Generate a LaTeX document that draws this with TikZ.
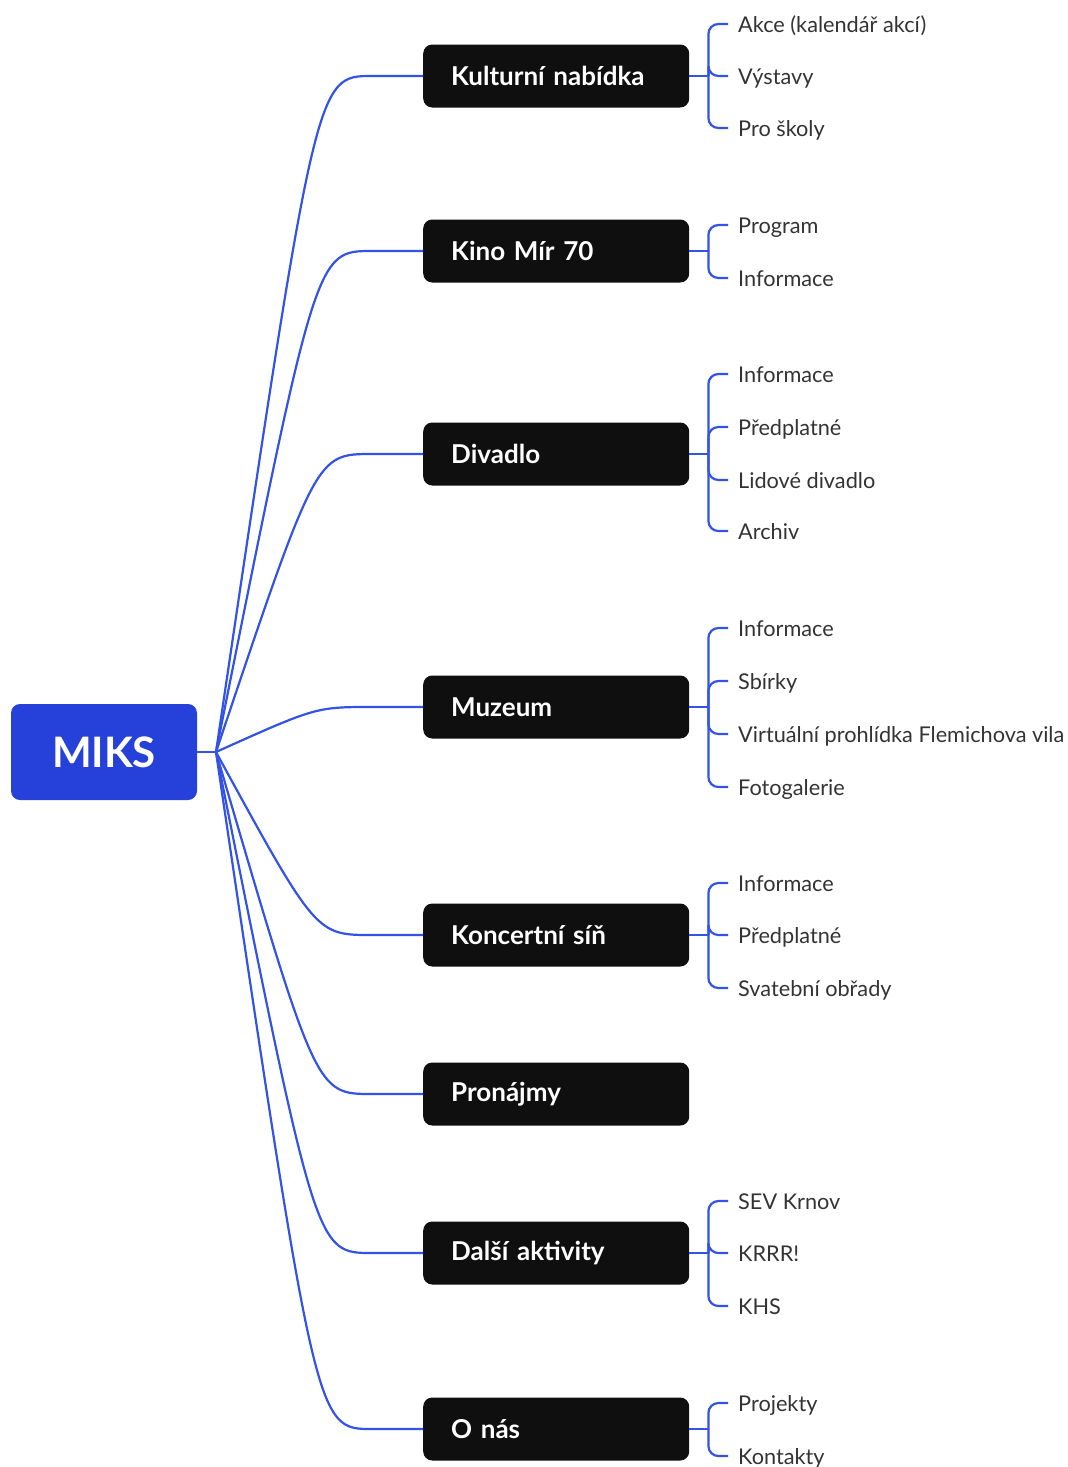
\documentclass[tikz,border=0pt]{standalone}
\usepackage{fontspec}
\setmainfont{Lato}
\usetikzlibrary{calc}
\definecolor{miksblue}{HTML}{2541D9}
\definecolor{linkblue}{HTML}{3352E6}
\definecolor{boxblack}{HTML}{0F0F0F}
\definecolor{leafgray}{HTML}{333333}
\begin{document}
\begin{tikzpicture}[x=1pt, y=-1pt,
        root/.style={rectangle, rounded corners=9pt, fill=miksblue, text=white, minimum width=186pt, minimum height=96pt, font=\fontsize{42}{42}\selectfont\bfseries},
        topic/.style={rectangle, rounded corners=9pt, fill=boxblack, text=white, anchor=west, minimum height=63pt, text width=266pt, inner xsep=0pt, align=left, execute at begin node={\hspace*{28pt}}, font=\fontsize{26}{26}\selectfont\bfseries},
        leaf/.style={anchor=west, inner sep=0pt, text height=16pt, text depth=0pt, text=leafgray, font=\fontsize{21.7}{21.7}\selectfont},
        link/.style={draw=linkblue, line width=2.2pt},
        fork/.style={link, rounded corners=10pt}
    ]
    \useasboundingbox (0,0) rectangle (1068,1467);
    \node[root] (miks) at (104,752) {MIKS};
    \coordinate (hub) at (216,752);
    \draw[link] (miks.east) -- (hub);

    \node[topic] (kul) at (423,76) {Kulturní nabídka};
    \node[topic] (kino) at (423,251) {Kino Mír 70};
    \node[topic] (div) at (423,454) {Divadlo};
    \node[topic] (muz) at (423,707) {Muzeum};
    \node[topic] (kon) at (423,935) {Koncertní síň};
    \node[topic] (pro) at (423,1094) {Pronájmy};
    \node[topic] (dal) at (423,1253) {Další aktivity};
    \node[topic] (onas) at (423,1429) {O nás};

    \foreach \t in {kul,kino,div,muz,kon,pro,dal,onas}
        \draw[link] (hub) .. controls ($(hub |- \t.west)+(100,0)$) .. ($(\t.west)+(-51,0)$) -- (\t.west);

    % Kulturní nabídka
    \node[leaf] (kul1) at (738,24) {Akce (kalendář akcí)};
    \node[leaf] (kul2) at (738,76) {Výstavy};
    \node[leaf] (kul3) at (738,128) {Pro školy};
    % Kino
    \node[leaf] (kino1) at (738,225) {Program};
    \node[leaf] (kino2) at (738,278) {Informace};
    % Divadlo
    \node[leaf] (div1) at (738,374) {Informace};
    \node[leaf] (div2) at (738,427) {Předplatné};
    \node[leaf] (div3) at (738,480) {Lidové divadlo};
    \node[leaf] (div4) at (738,531) {Archiv};
    % Muzeum
    \node[leaf] (muz1) at (738,628) {Informace};
    \node[leaf] (muz2) at (738,681) {Sbírky};
    \node[leaf] (muz3) at (738,734) {Virtuální prohlídka Flemichova vila};
    \node[leaf] (muz4) at (738,787) {Fotogalerie};
    % Koncertní síň
    \node[leaf] (kon1) at (738,883) {Informace};
    \node[leaf] (kon2) at (738,935) {Předplatné};
    \node[leaf] (kon3) at (738,988) {Svatební obřady};
    % Další aktivity
    \node[leaf] (dal1) at (738,1201) {SEV Krnov};
    \node[leaf] (dal2) at (738,1253) {KRRR!};
    \node[leaf] (dal3) at (738,1306) {KHS};
    % O nás
    \node[leaf] (onas1) at (738,1403) {Projekty};
    \node[leaf] (onas2) at (738,1456) {Kontakty};

    \foreach \t/\leaves in {kul/{kul1,kul2,kul3}, kino/{kino1,kino2}, div/{div1,div2,div3,div4}, muz/{muz1,muz2,muz3,muz4}, kon/{kon1,kon2,kon3}, dal/{dal1,dal2,dal3}, onas/{onas1,onas2}} {
        \coordinate (\t F) at ($(\t.east)+(19,0)$);
        \draw[link] (\t.east) -- (\t F);
        \foreach \l in \leaves
            \draw[fork] (\t F) |- ($(\l.west)+(-10,0)$);
    }
\end{tikzpicture}
\end{document}
